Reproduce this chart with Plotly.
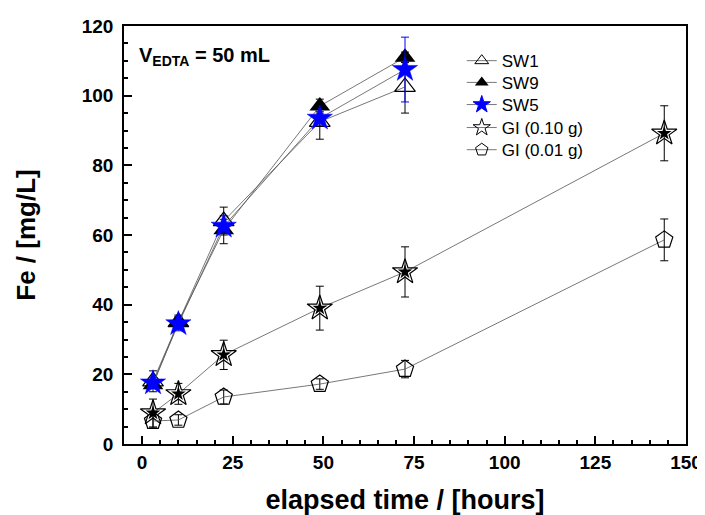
import plotly.graph_objects as go

# elapsed time [hours]
t_sw = [3, 10, 22.5, 49, 72.5]
t_gi = [3, 10, 22.5, 49, 72.5, 144]

# Fe [mg/L] and error bars
sw1 = [18, 35, 64, 92.5, 102.5]
sw1_err = [3, 2, 4, 5, 7.5]
sw9 = [17, 35, 61.5, 97, 111]
sw9_err = [1, 1.5, 4, 2, 1.5]
sw5 = [17.5, 34.5, 62.5, 93.5, 107.5]
sw5_err = [1.5, 2, 2, 2, 9.3]
gi_010 = [8.9, 14.4, 25.6, 39, 49.4, 89.2]
gi_010_err = [4, 3, 4.2, 6.3, 7.2, 7.9]
gi_001 = [6.6, 6.9, 13.5, 17.2, 21.5, 58.6]
gi_001_err = [2, 1.5, 2, 1.5, 2.5, 6]

names = ["SW1", "SW9", "SW5", "GI (0.10 g)", "GI (0.01 g)"]

FONT = "Liberation Sans, Arial, sans-serif"
LINE = dict(color="#555555", width=0.8)


def err(vals, colour="black"):
    return dict(type="data", array=vals, visible=True,
                color=colour, thickness=1, width=4)


markers = [
    dict(symbol="triangle-up-open", size=18, color="black",
         line=dict(width=1.2, color="black")),
    dict(symbol="triangle-up", size=18, color="black"),
    dict(symbol="star", size=19, color="blue", line=dict(width=0.5, color="blue")),
    dict(symbol="star-open", size=19, color="black",
         line=dict(width=1.2, color="black")),
    dict(symbol="pentagon-open", size=18, color="black",
         line=dict(width=1.2, color="black")),
]
series = [
    (t_sw, sw1, sw1_err, "black"),
    (t_sw, sw9, sw9_err, "black"),
    (t_sw, sw5, sw5_err, "blue"),
    (t_gi, gi_010, gi_010_err, "black"),
    (t_gi, gi_001, gi_001_err, "black"),
]

fig = go.Figure()

for name, mk, (xs, ys, es, ecol) in zip(names, markers, series):
    fig.add_trace(go.Scatter(
        x=xs, y=ys, name=name, mode="lines+markers", line=LINE,
        error_y=err(es, ecol), marker=mk, showlegend=False,
    ))
    if name == "GI (0.10 g)":
        # filled core of the half-filled star
        fig.add_trace(go.Scatter(
            x=xs, y=ys, mode="markers", showlegend=False, hoverinfo="skip",
            marker=dict(symbol="star", size=11, color="black"),
        ))

# legend-only entries with the small symbols of the original key;
# one single-entry legend per row so the row spacing matches
legend_rows = [0.916, 0.864, 0.811, 0.756, 0.703]
legend_sizes = [12, 12, 13, 13, 13]
legends = {}
for i, (name, mk, yrow, sz) in enumerate(zip(names, markers, legend_rows, legend_sizes)):
    key = "legend" if i == 0 else f"legend{i + 1}"
    small = dict(mk, size=sz)
    if "line" in small:
        small["line"] = dict(small["line"], width=1)
    fig.add_trace(go.Scatter(
        x=[None], y=[None], name=name, mode="lines+markers",
        line=dict(color="#777777", width=1), marker=small,
        legend=key, showlegend=True, hoverinfo="skip",
    ))
    legends[key] = dict(
        x=0.601, y=yrow, xanchor="left", yanchor="middle",
        font=dict(family=FONT, size=17, color="black"),
        bgcolor="rgba(0,0,0,0)",
    )

fig.add_annotation(
    text="<b>V<sub>EDTA</sub> = 50 mL</b>",
    xref="paper", yref="paper", x=0.023, y=0.962,
    xanchor="left", yanchor="top", showarrow=False,
    font=dict(family=FONT, size=20, color="black"),
)

axis_common = dict(
    showline=True, linecolor="black", linewidth=1.5, mirror=True,
    ticks="inside", ticklen=8, tickwidth=1.5, tickcolor="black",
    showgrid=False, zeroline=False, automargin=False,
    tickfont=dict(family=FONT, size=19, color="black", weight="bold"),
)

# page body has an 8px margin, so the figure is 8px smaller than the window
fig.update_layout(
    width=697, height=507,
    margin=dict(l=116, r=19, t=18, b=71),
    plot_bgcolor="white", paper_bgcolor="white",
    font=dict(family=FONT, color="black"),
    showlegend=True,
    **legends,
    xaxis=dict(
        range=[-5, 150], tickmode="array", tickvals=[0, 25, 50, 75, 100, 125, 150],
        minor=dict(ticks="inside", ticklen=4, dtick=5, tick0=0, tickcolor="black"),
        title=dict(text="<b>elapsed time / [hours]</b>",
                   font=dict(family=FONT, size=27, color="black"), standoff=23),
        **axis_common,
    ),
    yaxis=dict(
        range=[0, 120], dtick=20, ticklabelstandoff=5,
        minor=dict(ticks="inside", ticklen=4, dtick=5, tick0=0, tickcolor="black"),
        title=dict(text="<b>Fe / [mg/L]</b>",
                   font=dict(family=FONT, size=26, color="black"), standoff=39),
        **axis_common,
    ),
)

fig.write_html("out.html")
